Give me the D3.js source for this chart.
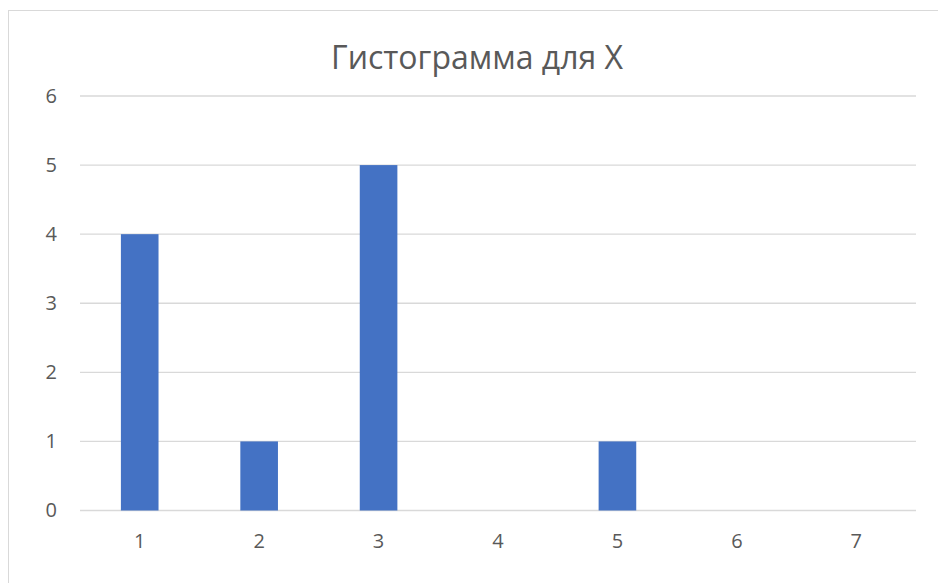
<!DOCTYPE html>
<html>
<head>
<meta charset="utf-8">
<script src="https://cdn.jsdelivr.net/npm/d3@7"></script>
<style>
  body { margin: 0; background: #fff; }
  svg { display: block; }
</style>
</head>
<body>
<svg id="chart"></svg>
<script>
// data
let categories = ["1", "2", "3", "4", "5", "6", "7"];
let counts = [4, 1, 5, 0, 1, 0, 0];
let yTicks = [0, 1, 2, 3, 4, 5, 6];
let title = "Гистограмма для X";

let width = 938, height = 583;
let margin = {top: 96, right: 22, bottom: 72.5, left: 80};

let svg = d3.select("#chart")
  .attr("width", width)
  .attr("height", height);

// chart frame (only left/top edges fall inside the picture)
svg.append("rect")
  .attr("x", 8.5).attr("y", 10.5)
  .attr("width", 960).attr("height", 600)
  .attr("fill", "none")
  .attr("stroke", "#d9d9d9")
  .attr("stroke-width", 1);

let g = svg.append("g")
  .attr("transform", "translate(" + margin.left + "," + margin.top + ")");

let innerW = width - margin.left - margin.right,
  innerH = height - margin.top - margin.bottom;

let xScale = d3.scaleBand()
  .domain(categories)
  .range([0, innerW])
  .paddingInner(0.685)
  .paddingOuter(0.3425);

let yScale = d3.scaleLinear()
  .domain([0, 6])
  .range([innerH, 0]);

// gridlines
g.append("g")
  .selectAll("line")
  .data(yTicks)
  .enter().append("line")
  .attr("x1", 0).attr("x2", innerW)
  .attr("y1", d => yScale(d)).attr("y2", d => yScale(d))
  .attr("stroke", "#d9d9d9")
  .attr("stroke-width", 1.3);

// bars
g.selectAll("rect.bar")
  .data(counts)
  .enter().append("rect")
  .attr("class", "bar")
  .attr("x", (d, i) => xScale(categories[i]))
  .attr("width", xScale.bandwidth())
  .attr("y", d => yScale(d))
  .attr("height", d => innerH - yScale(d))
  .attr("fill", "#4472c4");

let font = "'Open Sans', 'Noto Sans', sans-serif";

// y axis labels
let yAxis = d3.axisLeft(yScale).tickValues(yTicks).tickFormat(d3.format("d"))
  .tickSize(0).tickPadding(23);
g.append("g")
  .call(yAxis)
  .call(a => a.select(".domain").remove())
  .selectAll("text")
  .attr("fill", "#595959")
  .style("font-family", font)
  .style("font-size", "20px");

// x axis labels
let xAxis = d3.axisBottom(xScale).tickSize(0).tickPadding(23);
g.append("g")
  .attr("transform", "translate(0," + innerH + ")")
  .call(xAxis)
  .call(a => a.select(".domain").remove())
  .selectAll("text")
  .attr("fill", "#595959")
  .style("font-family", font)
  .style("font-size", "20px");

// title
svg.append("text")
  .attr("x", 477)
  .attr("y", 69)
  .attr("text-anchor", "middle")
  .attr("fill", "#595959")
  .style("font-family", font)
  .style("font-size", "32px")
  .text(title);
</script>
</body>
</html>
